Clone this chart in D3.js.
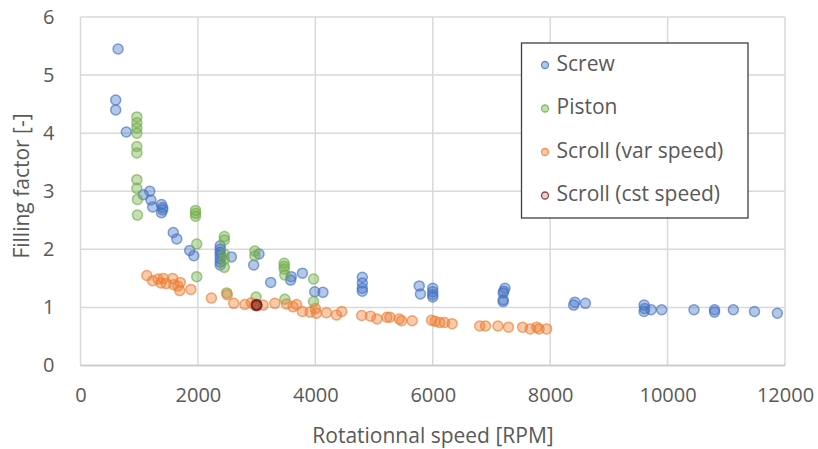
<!DOCTYPE html>
<html lang="en">
<head>
    <meta charset="UTF-8">
    <title>Filling factor</title>
    <script src="https://cdnjs.cloudflare.com/ajax/libs/d3/7.8.5/d3.min.js"></script>
    <style>
    html, body {
        margin: 0;
        background: white;
    }
    text {
        font-family: 'Open Sans', sans-serif;
        fill: #595959;
    }
    </style>
</head>
<body>
    <div id="chart"></div>
    <script>
    // [rpm, filling factor]
    var screw = [
        [640, 5.45], [600, 4.57], [600, 4.40], [780, 4.02],
        [1180, 3.00], [1070, 2.94], [1200, 2.85], [1230, 2.73], [1380, 2.77],
        [1400, 2.72], [1400, 2.68], [1380, 2.63], [1580, 2.29], [1640, 2.18],
        [1860, 1.98], [1930, 1.89],
        [2380, 2.06], [2380, 2.00], [2380, 1.95], [2380, 1.90], [2380, 1.84],
        [2380, 1.78], [2380, 1.73], [2570, 1.87], [2950, 1.73], [3040, 1.92],
        [3240, 1.43], [3590, 1.53], [3580, 1.47], [3780, 1.59], [3990, 1.27],
        [4130, 1.26], [4800, 1.52], [4800, 1.42], [4800, 1.33], [4800, 1.28],
        [5770, 1.37], [5790, 1.23], [6000, 1.33], [6000, 1.27], [6000, 1.22],
        [6000, 1.18], [7230, 1.33], [7210, 1.28], [7200, 1.25], [7200, 1.13],
        [7200, 1.10], [8420, 1.09], [8400, 1.04], [8600, 1.07], [9600, 1.04],
        [9610, 0.98], [9600, 0.93], [9720, 0.96], [9900, 0.96], [10450, 0.96],
        [10800, 0.96], [10800, 0.92], [11120, 0.96], [11480, 0.93], [11870, 0.90]
    ];

    var piston = [
        [960, 4.28], [960, 4.18], [960, 4.09], [960, 4.00], [960, 3.77], [960, 3.66],
        [960, 3.20], [960, 3.05], [970, 2.86], [970, 2.59],
        [1960, 2.67], [1960, 2.62], [1960, 2.57], [1980, 2.09], [1980, 1.53],
        [2450, 2.22], [2450, 2.16], [2450, 1.92], [2450, 1.82], [2450, 1.69],
        [2490, 1.25], [2970, 1.97], [2970, 1.89], [2990, 1.18],
        [3470, 1.76], [3470, 1.71], [3470, 1.66], [3480, 1.56], [3480, 1.14],
        [3970, 1.49], [3970, 1.10]
    ];

    var scrollVar = [
        [1130, 1.55], [1230, 1.46], [1320, 1.49], [1370, 1.42], [1410, 1.50],
        [1460, 1.41], [1570, 1.50], [1590, 1.39], [1660, 1.37], [1690, 1.29],
        [1700, 1.43], [1880, 1.31], [2230, 1.16], [2500, 1.22], [2610, 1.07],
        [2800, 1.05], [2910, 1.08], [2970, 1.04], [3110, 1.04], [3310, 1.07],
        [3510, 1.06], [3620, 1.01], [3680, 1.05], [3780, 0.93], [3910, 0.92],
        [4000, 0.98], [4020, 0.90], [4190, 0.91], [4360, 0.87], [4450, 0.93],
        [4790, 0.86], [4940, 0.85], [5050, 0.80], [5220, 0.83], [5270, 0.83],
        [5430, 0.80], [5470, 0.77], [5650, 0.77], [5980, 0.78], [6040, 0.76],
        [6120, 0.74], [6200, 0.74], [6330, 0.72], [6800, 0.68], [6900, 0.68],
        [7110, 0.68], [7290, 0.66], [7530, 0.66], [7660, 0.63], [7770, 0.66],
        [7810, 0.63], [7940, 0.63]
    ];

    var scrollCst = [
        [3000, 1.03], [3000, 1.04], [3000, 1.04], [3000, 1.05]
    ];

    var xTicks = [0, 2000, 4000, 6000, 8000, 10000, 12000];
    var yTicks = [0, 1, 2, 3, 4, 5, 6];

    var series = [
        {name: 'Screw', data: screw, color: '#4472c4', fillOp: 0.4},
        {name: 'Piston', data: piston, color: '#70ad47', fillOp: 0.4},
        {name: 'Scroll (var speed)', data: scrollVar, color: '#ed7d31', fillOp: 0.4},
        {name: 'Scroll (cst speed)', data: scrollCst, color: '#7b2222', fillOp: 0.2}
    ];

    var width = 818;
    var height = 449;
    var margin = {top: 17, right: 33, bottom: 83.5, left: 80.5};
    var w = width - margin.left - margin.right;
    var h = height - margin.top - margin.bottom;

    var svg = d3.select('#chart')
        .append('svg')
            .attr('width', width)
            .attr('height', height);

    var g = svg.append('g')
        .attr('transform', 'translate(' + margin.left + ',' + margin.top + ')');

    var x = d3.scaleLinear().domain([0, 12000]).range([0, w]);
    var y = d3.scaleLinear().domain([0, 6]).range([h, 0]);

    // grid
    g.selectAll('.vgrid')
        .data(xTicks)
        .enter()
        .append('line')
        .attr('x1', function(d){ return x(d); })
        .attr('x2', function(d){ return x(d); })
        .attr('y1', 0)
        .attr('y2', h)
        .attr('stroke', '#d9d9d9')
        .attr('stroke-width', 1.5);

    g.selectAll('.hgrid')
        .data(yTicks)
        .enter()
        .append('line')
        .attr('x1', 0)
        .attr('x2', w)
        .attr('y1', function(d){ return y(d); })
        .attr('y2', function(d){ return y(d); })
        .attr('stroke', '#d9d9d9')
        .attr('stroke-width', 1.5);

    g.append('line')
        .attr('x1', 0).attr('x2', w)
        .attr('y1', h).attr('y2', h)
        .attr('stroke', '#c8c8c8')
        .attr('stroke-width', 1.5);

    // axes (labels only)
    var xAxis = d3.axisBottom(x).tickValues(xTicks).tickFormat(d3.format('d')).tickSize(0).tickPadding(22);
    var yAxis = d3.axisLeft(y).tickValues(yTicks).tickFormat(d3.format('d')).tickSize(0).tickPadding(26);

    g.append('g')
        .attr('transform', 'translate(0,' + h + ')')
        .call(xAxis)
        .call(function(s){ s.select('.domain').remove(); })
        .selectAll('text')
            .style('font-family', "'Open Sans', sans-serif")
            .style('font-size', '20px')
            .attr('fill', '#595959');

    g.append('g')
        .call(yAxis)
        .call(function(s){ s.select('.domain').remove(); })
        .selectAll('text')
            .style('font-family', "'Open Sans', sans-serif")
            .style('font-size', '20px')
            .attr('fill', '#595959');

    svg.append('text')
        .attr('x', 433)
        .attr('y', 437)
        .attr('text-anchor', 'middle')
        .attr('dominant-baseline', 'middle')
        .style('font-size', '21px')
        .text('Rotationnal speed [RPM]');

    svg.append('text')
        .attr('transform', 'translate(23,186) rotate(-90)')
        .attr('text-anchor', 'middle')
        .attr('dominant-baseline', 'middle')
        .style('font-size', '21px')
        .text('Filling factor [-]');

    // points
    series.forEach(function(s){
        g.selectAll(null)
            .data(s.data)
            .enter()
            .append('circle')
            .attr('cx', function(d){ return x(d[0]); })
            .attr('cy', function(d){ return y(d[1]); })
            .attr('r', 5)
            .attr('fill', s.color)
            .attr('fill-opacity', s.fillOp)
            .attr('stroke', s.color)
            .attr('stroke-opacity', 0.65)
            .attr('stroke-width', 1.5);
    });

    // legend
    var legend = svg.append('g')
        .attr('transform', 'translate(521.5,43)');

    legend.append('rect')
        .attr('width', 226.5)
        .attr('height', 175)
        .attr('fill', 'white')
        .attr('stroke', '#404040')
        .attr('stroke-width', 1.3);

    var items = legend.selectAll('.item')
        .data(series)
        .enter()
        .append('g')
        .attr('transform', function(d, i){ return 'translate(0,' + (22 + i * 43.5) + ')'; });

    items.append('circle')
        .attr('cx', 23.5)
        .attr('cy', 0)
        .attr('r', 3.5)
        .attr('fill', function(d){ return d.color; })
        .attr('fill-opacity', function(d){ return d.fillOp; })
        .attr('stroke', function(d){ return d.color; })
        .attr('stroke-opacity', 0.8)
        .attr('stroke-width', 1.3);

    items.append('text')
        .attr('x', 35)
        .attr('y', 0)
        .attr('dominant-baseline', 'middle')
        .style('font-size', '21px')
        .text(function(d){ return d.name; });
    </script>
</body>
</html>
